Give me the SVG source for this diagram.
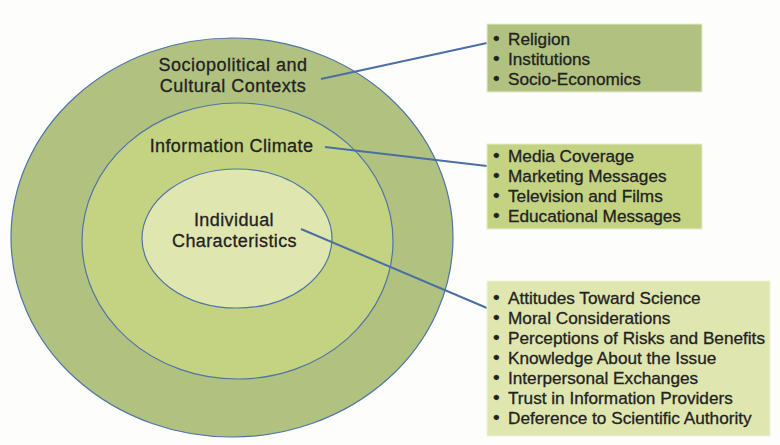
<svg xmlns="http://www.w3.org/2000/svg" width="780" height="445" viewBox="0 0 780 445">
<style>
.ring{stroke:#4f75a6;stroke-width:1.2}
.lbl{font-family:"Liberation Sans",Arial,sans-serif;font-size:18px;fill:#222;text-anchor:middle;stroke:#222;stroke-width:0.3}
.item{font-family:"Liberation Sans",Arial,sans-serif;font-size:17.2px;fill:#222;stroke:#222;stroke-width:0.3}
.bul{font-size:19px}
.conn{stroke:#4a6fa5;stroke-width:2;fill:none}
</style>
<rect width="780" height="445" fill="#fdfdfb"/>
<g id="outer">
<ellipse class="ring" cx="232" cy="237.5" rx="221" ry="199.5" fill="#b1c180"/>
<text class="lbl" x="233" y="71" letter-spacing="0.5">Sociopolitical and</text>
<text class="lbl" x="233" y="92" letter-spacing="0.5">Cultural Contexts</text>
</g>
<g id="middle">
<ellipse class="ring" cx="237.5" cy="241" rx="155.5" ry="138" fill="#c4d382"/>
<text class="lbl" x="231.5" y="152" letter-spacing="0.4">Information Climate</text>
</g>
<g id="inner">
<ellipse class="ring" cx="237" cy="238.5" rx="95" ry="69.5" fill="#e0e6b0"/>
<text class="lbl" x="234" y="226" letter-spacing="0.4">Individual</text>
<text class="lbl" x="234.5" y="247" letter-spacing="0.4">Characteristics</text>
</g>
<g id="connectors">
<line class="conn" x1="321" y1="79" x2="487" y2="43"/>
<line class="conn" x1="325" y1="147" x2="487" y2="166"/>
<line class="conn" x1="301" y1="229" x2="487" y2="308"/>
</g>
<g id="box1">
<rect x="487" y="24" width="215" height="68" fill="#b1c180" stroke="#e6ead0" stroke-width="1"/>
<text class="item"><tspan class="bul" x="493" y="45">•</tspan><tspan x="508" y="45">Religion</tspan><tspan class="bul" x="493" y="65">•</tspan><tspan x="508" y="65">Institutions</tspan><tspan class="bul" x="493" y="85">•</tspan><tspan x="508" y="85">Socio-Economics</tspan></text>
</g>
<g id="box2">
<rect x="487" y="144" width="215" height="85" fill="#c4d382" stroke="#e6ead0" stroke-width="1"/>
<text class="item"><tspan class="bul" x="493" y="162">•</tspan><tspan x="508" y="162">Media Coverage</tspan><tspan class="bul" x="493" y="182">•</tspan><tspan x="508" y="182">Marketing Messages</tspan><tspan class="bul" x="493" y="202">•</tspan><tspan x="508" y="202">Television and Films</tspan><tspan class="bul" x="493" y="222">•</tspan><tspan x="508" y="222">Educational Messages</tspan></text>
</g>
<g id="box3">
<rect x="487" y="281" width="283" height="155" fill="#e0e6b0" stroke="#f0f2dc" stroke-width="1"/>
<text class="item"><tspan class="bul" x="493" y="304">•</tspan><tspan x="508" y="304">Attitudes Toward Science</tspan><tspan class="bul" x="493" y="324">•</tspan><tspan x="508" y="324">Moral Considerations</tspan><tspan class="bul" x="493" y="344">•</tspan><tspan x="508" y="344">Perceptions of Risks and Benefits</tspan><tspan class="bul" x="493" y="364">•</tspan><tspan x="508" y="364">Knowledge About the Issue</tspan><tspan class="bul" x="493" y="384">•</tspan><tspan x="508" y="384">Interpersonal Exchanges</tspan><tspan class="bul" x="493" y="404">•</tspan><tspan x="508" y="404">Trust in Information Providers</tspan><tspan class="bul" x="493" y="424">•</tspan><tspan x="508" y="424">Deference to Scientific Authority</tspan></text>
</g>
</svg>
